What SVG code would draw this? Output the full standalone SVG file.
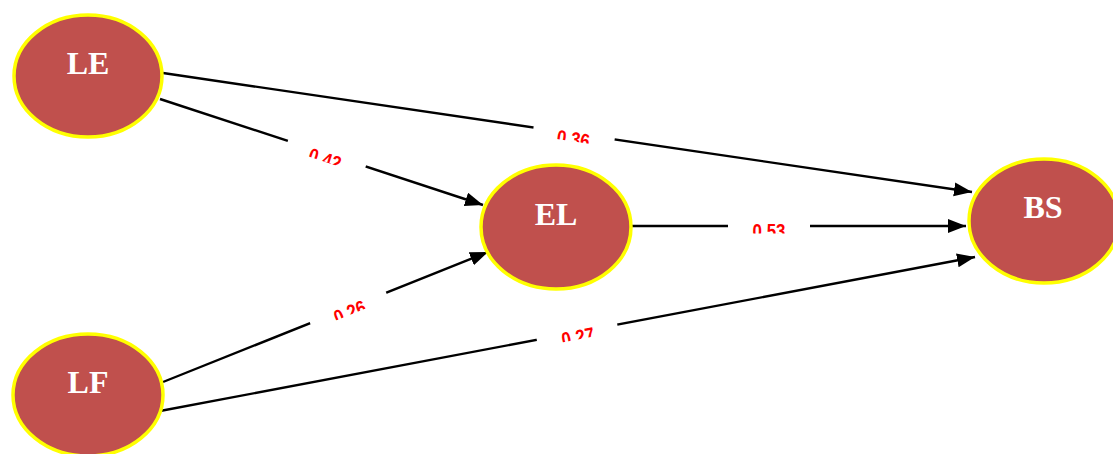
<svg xmlns="http://www.w3.org/2000/svg" width="1113" height="454" viewBox="0 0 1113 454">
<style>
.node ellipse{fill:#C0504D;stroke:#FFFF00;stroke-width:3.5}
.node text{font-family:"Liberation Serif","Times New Roman",serif;font-weight:bold;font-size:32px;fill:#FFFFFF;text-anchor:middle}
.edge{stroke:#000;stroke-width:2.4;fill:none;marker-end:url(#arr)}
.lbl text{font-family:"Liberation Sans",Arial,sans-serif;font-weight:bold;font-size:20px;fill:#FF0000;text-anchor:middle}
.lbl rect{fill:#FFFFFF}
</style>
<defs>
<marker id="arr" markerUnits="userSpaceOnUse" markerWidth="20" markerHeight="16" refX="18" refY="7" orient="auto">
<path d="M0,0 L18,7 L0,14 Z" fill="#000"/>
</marker>
<clipPath id="lc"><rect x="-30" y="-20" width="60" height="27.5"/></clipPath>
</defs>
<rect width="1113" height="454" fill="#FFFFFF"/>
<g id="connectors">
<line class="edge" x1="163" y1="73" x2="972" y2="192"/>
<line class="edge" x1="160" y1="99" x2="483" y2="205"/>
<line class="edge" x1="632" y1="226" x2="966" y2="226"/>
<line class="edge" x1="163" y1="382" x2="488" y2="252"/>
<line class="edge" x1="160" y1="411" x2="975" y2="257"/>
<g class="lbl" transform="translate(574,134) rotate(8.46)"><rect x="-41" y="-4" width="82" height="8"/><text x="0" y="12" textLength="33" lengthAdjust="spacingAndGlyphs" clip-path="url(#lc)">0.36</text></g>
<g class="lbl" transform="translate(326.5,154.5) rotate(18.2)"><rect x="-41" y="-4" width="82" height="8"/><text x="0" y="12" textLength="33" lengthAdjust="spacingAndGlyphs" clip-path="url(#lc)">0.42</text></g>
<g class="lbl" transform="translate(769,226)"><rect x="-41" y="-4" width="82" height="8"/><text x="0" y="12" textLength="33" lengthAdjust="spacingAndGlyphs" clip-path="url(#lc)">0.53</text></g>
<g class="lbl" transform="translate(348,307.5) rotate(-21.95)"><rect x="-41" y="-4" width="82" height="8"/><text x="0" y="12" textLength="33" lengthAdjust="spacingAndGlyphs" clip-path="url(#lc)">0.26</text></g>
<g class="lbl" transform="translate(577,332) rotate(-10.75)"><rect x="-41" y="-4" width="82" height="8"/><text x="0" y="12" textLength="33" lengthAdjust="spacingAndGlyphs" clip-path="url(#lc)">0.27</text></g>
</g>
<g id="LE" class="node"><ellipse cx="88" cy="76" rx="74" ry="61"/><text x="88" y="74">LE</text></g>
<g id="EL" class="node"><ellipse cx="556" cy="227" rx="75" ry="62"/><text x="556" y="225">EL</text></g>
<g id="BS" class="node"><ellipse cx="1044" cy="221" rx="75" ry="62"/><text x="1043" y="218">BS</text></g>
<g id="LF" class="node"><ellipse cx="88" cy="395" rx="75" ry="61"/><text x="88" y="393">LF</text></g>
</svg>
